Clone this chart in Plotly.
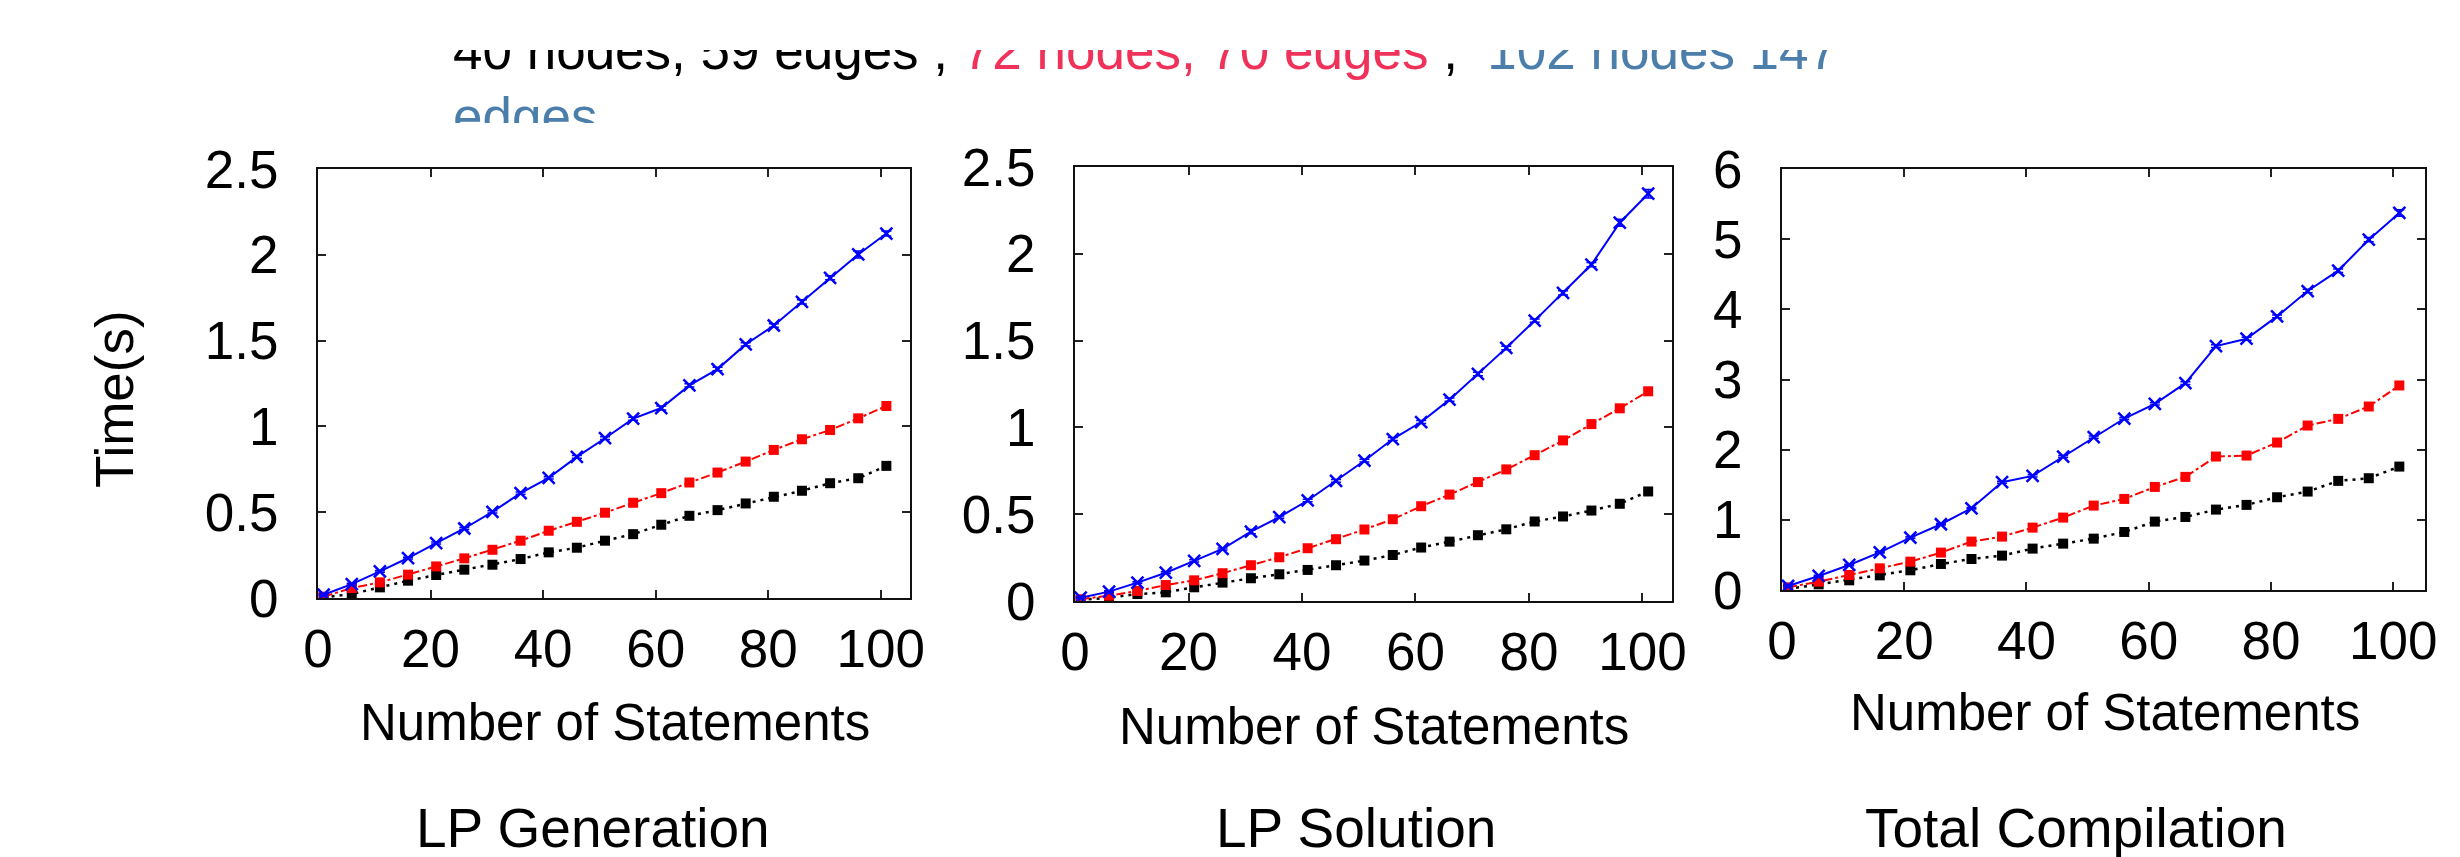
import plotly.graph_objects as go

W, H = 2460, 857

# ---------------- data ----------------
statements = [1, 6, 11, 16, 21, 26, 31, 36, 41, 46, 51, 56, 61, 66, 71, 76, 81, 86, 91, 96, 101]

gen_40 = [0.004, 0.023, 0.062, 0.101, 0.134, 0.165, 0.194, 0.227, 0.266, 0.293, 0.334,
          0.372, 0.427, 0.479, 0.512, 0.551, 0.590, 0.625, 0.669, 0.698, 0.770]
gen_72 = [0.008, 0.058, 0.091, 0.136, 0.184, 0.231, 0.281, 0.334, 0.392, 0.444, 0.497,
          0.555, 0.611, 0.673, 0.731, 0.795, 0.863, 0.925, 0.979, 1.047, 1.119]
gen_102 = [0.019, 0.081, 0.155, 0.233, 0.320, 0.405, 0.502, 0.611, 0.700, 0.822, 0.931,
           1.045, 1.107, 1.239, 1.334, 1.478, 1.588, 1.726, 1.866, 2.002, 2.124]
gen_102_err = [0.005, 0.005, 0.005, 0.005, 0.006, 0.006, 0.006, 0.007, 0.007, 0.008, 0.008,
               0.009, 0.012, 0.010, 0.010, 0.010, 0.010, 0.012, 0.012, 0.020, 0.015]

sol_40 = [0.006, 0.019, 0.040, 0.050, 0.079, 0.106, 0.131, 0.154, 0.179, 0.206, 0.233,
          0.265, 0.308, 0.342, 0.379, 0.413, 0.458, 0.487, 0.521, 0.560, 0.631]
sol_72 = [0.010, 0.031, 0.058, 0.092, 0.119, 0.160, 0.206, 0.252, 0.304, 0.356, 0.412,
          0.471, 0.546, 0.613, 0.685, 0.758, 0.840, 0.925, 1.019, 1.110, 1.208]
sol_102 = [0.019, 0.054, 0.106, 0.163, 0.231, 0.300, 0.400, 0.483, 0.579, 0.692, 0.808,
           0.933, 1.031, 1.160, 1.308, 1.458, 1.615, 1.775, 1.938, 2.179, 2.346]
sol_102_err = [0.005, 0.005, 0.005, 0.005, 0.006, 0.006, 0.012, 0.007, 0.007, 0.008, 0.008,
               0.009, 0.009, 0.010, 0.010, 0.010, 0.010, 0.012, 0.012, 0.020, 0.025]

tot_40 = [0.014, 0.081, 0.138, 0.209, 0.281, 0.371, 0.442, 0.490, 0.590, 0.661, 0.732,
          0.827, 0.975, 1.041, 1.146, 1.213, 1.322, 1.403, 1.555, 1.593, 1.759]
tot_72 = [0.038, 0.119, 0.214, 0.309, 0.404, 0.533, 0.690, 0.761, 0.889, 1.032, 1.203,
          1.298, 1.469, 1.612, 1.902, 1.916, 2.102, 2.344, 2.439, 2.615, 2.915]
tot_102 = [0.057, 0.200, 0.357, 0.537, 0.746, 0.937, 1.165, 1.536, 1.626, 1.902, 2.178,
           2.444, 2.653, 2.948, 3.476, 3.581, 3.899, 4.261, 4.551, 4.993, 5.373]
tot_102_err = [0.010, 0.010, 0.010, 0.010, 0.012, 0.012, 0.012, 0.015, 0.015, 0.015, 0.015,
               0.015, 0.015, 0.020, 0.020, 0.020, 0.020, 0.025, 0.025, 0.030, 0.045]

panel_titles = ["LP Generation", "LP Solution", "Total Compilation"]
x_title = "Number of Statements"
y_title = "Time(s)"
x_ticks = [0, 20, 40, 60, 80, 100]
y_ticks_12 = [0, 0.5, 1, 1.5, 2, 2.5]
y_ticks_3 = [0, 1, 2, 3, 4, 5, 6]

legend_black = "40 nodes, 59 edges ;"
legend_red = "72 nodes, 70 edges"
legend_blue = "102 nodes 147"
legend_blue2 = "edges"

# ---------------- style ----------------
FONT = "Liberation Sans, Arial, Helvetica, sans-serif"
BLUE = "#0000ff"
RED = "#ff0000"
BLACK = "#000000"
TXT_RED = "#f0325a"
TXT_BLUE = "#4b7eaa"

# panel frames in pixels: (left, right, top, bottom)
frames = [(310, 902, 161, 590), (1067, 1664, 159, 593), (1774, 2417, 161, 582)]


def px(x):
    return x / W


def py(y):
    return 1 - y / H


fig = go.Figure()

panels = [
    (gen_40, gen_72, gen_102, gen_102_err, [0, 2.5], y_ticks_12),
    (sol_40, sol_72, sol_102, sol_102_err, [0, 2.5], y_ticks_12),
    (tot_40, tot_72, tot_102, tot_102_err, [0, 6], y_ticks_3),
]

for i, (s40, s72, s102, err, yr, yt) in enumerate(panels):
    k = "" if i == 0 else str(i + 1)
    xa, ya = "x" + k, "y" + k
    fig.add_trace(go.Scatter(
        x=statements, y=s40, xaxis=xa, yaxis=ya, mode="lines+markers",
        line=dict(color=BLACK, width=2.5, dash="3px,5px"),
        marker=dict(symbol="square", size=10, color=BLACK), showlegend=False))
    fig.add_trace(go.Scatter(
        x=statements, y=s72, xaxis=xa, yaxis=ya, mode="lines+markers",
        line=dict(color=RED, width=2, dash="9px,3px,3px,3px"),
        marker=dict(symbol="square", size=10, color=RED), showlegend=False))
    fig.add_trace(go.Scatter(
        x=statements, y=s102, xaxis=xa, yaxis=ya, mode="lines+markers",
        line=dict(color=BLUE, width=2),
        marker=dict(symbol="x-thin", size=12, line=dict(color=BLUE, width=2.5)),
        error_y=dict(type="data", array=err, visible=True, color=BLUE, thickness=1.5, width=5),
        showlegend=False))

    l, r, t, b = frames[i]
    axis_common = dict(showline=True, linecolor="#111111", linewidth=2, mirror="ticks",
                       ticks="inside", ticklen=8, tickwidth=1.5, tickcolor="#222222",
                       showgrid=False, zeroline=False, automargin=False,
                       tickfont=dict(family=FONT, size=53, color="black"))
    fig.update_layout({
        "xaxis" + k: dict(domain=[px(l), px(r)], range=[0, 105.2], tickvals=x_ticks,
                          anchor=ya, ticklabelstandoff=3, **axis_common),
        "yaxis" + k: dict(domain=[py(b), py(t)], range=yr, tickvals=yt,
                          anchor=xa, ticklabelstandoff=27, **axis_common),
    })

# ---- clipped header text, drawn in its own subplot so it gets clipped ----
hdr_top, hdr_bot = 42, 115
fig.add_trace(go.Scatter(
    x=[445, 445], y=[48, 114], xaxis="x4", yaxis="y4", mode="text",
    text=[
        legend_black + " <span style='color:%s'>%s</span> ;\u00a0\u00a0<span style='color:%s'>%s</span>"
        % (TXT_RED, legend_red, TXT_BLUE, legend_blue),
        "<span style='color:%s'>%s</span>" % (TXT_BLUE, legend_blue2),
    ],
    textposition="middle right", textfont=dict(family=FONT, size=53, color="black"),
    cliponaxis=True, showlegend=False, hoverinfo="skip"))
# full-figure pixel overlay axes used to place the text labels
fig.update_layout(
    xaxis4=dict(domain=[0, 1], range=[0, W], visible=False, anchor="y4", automargin=False),
    yaxis4=dict(domain=[py(hdr_bot), py(hdr_top)], range=[hdr_bot, hdr_top], visible=False,
                anchor="x4", automargin=False),
    yaxis5=dict(domain=[0, 1], range=[H, 0], visible=False, anchor="x4", automargin=False),
)

# ---- titles as annotations (pixel coordinates on overlay axes) ----
ann = []
xt_pos = [(607, 714), (1366, 718), (2097, 704)]
pt_pos = [(585, 820), (1348, 820), (2068, 820)]
for i in range(3):
    ann.append(dict(x=xt_pos[i][0], y=xt_pos[i][1], xref="x4", yref="y5",
                    text=x_title, showarrow=False, xanchor="center", yanchor="middle",
                    font=dict(family=FONT, size=51, color="black")))
    ann.append(dict(x=pt_pos[i][0], y=pt_pos[i][1], xref="x4", yref="y5",
                    text=panel_titles[i], showarrow=False, xanchor="center", yanchor="middle",
                    font=dict(family=FONT, size=55, color="black")))
ann.append(dict(x=106, y=391, xref="x4", yref="y5", text=y_title,
                showarrow=False, textangle=-90, xanchor="center", yanchor="middle",
                font=dict(family=FONT, size=53, color="black")))

fig.update_layout(
    width=W, height=H, autosize=False,
    margin=dict(l=0, r=0, t=0, b=0, autoexpand=False),
    paper_bgcolor="white", plot_bgcolor="rgba(0,0,0,0)",
    annotations=ann, showlegend=False,
)

fig.write_html("out.html")
